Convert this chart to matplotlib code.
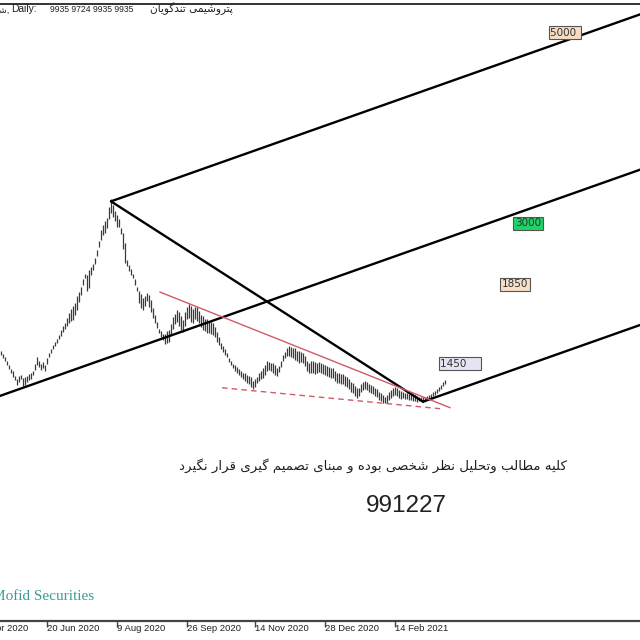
import matplotlib
matplotlib.use('Agg')
import matplotlib.pyplot as plt
import matplotlib.transforms as mtransforms
import numpy as np

# daily bars (price in units of 100 rial)
bar_mid = [128, 125, 122, 118, 114, 110, 107, 103, 99, 102, 104, 99, 100, 102, 104, 105, 108, 114, 120, 117,
           114, 116, 113, 120, 126,
           130, 134, 137, 140, 144, 148, 152, 155, 159, 163, 166, 168, 172, 178, 184, 190, 199, 205, 198, 202,
           210, 214, 220, 228, 237, 246, 251, 254, 258, 268, 275,
           270, 265, 260, 258, 250, 240, 228, 218, 213, 209, 205, 199, 192, 184, 180, 177, 180, 184, 180, 175,
           168, 162, 156, 150, 147, 144, 142, 144, 145, 152, 158, 162, 165, 162, 158, 155, 162, 168, 170, 167,
           165, 168, 167, 164, 160, 158, 156, 155, 154, 153, 152, 149, 144, 140, 135, 132, 129, 126, 121, 118,
           115, 113, 111, 109, 107, 105, 104, 102, 101, 99, 96, 98, 101, 104, 106, 108, 111, 115, 115, 114,
           113, 111, 109, 112, 117, 123, 126, 129, 130, 129, 128, 127, 125, 124, 124,
           123, 120, 115, 113, 114, 114, 113, 113, 114, 113, 112, 111, 110, 109, 108, 108, 105, 103, 103, 102,
           102, 100, 99, 97, 94, 93, 90, 88, 89, 93, 95, 96, 95, 93, 92, 91, 89, 88, 85, 84,
           82, 81, 82, 85, 87, 89, 90, 89, 87, 86, 86, 85, 85, 84, 84, 83, 83, 82, 82, 82,
           82, 82, 83, 84, 85, 87, 88, 90, 92, 94, 97, 99]
bar_half = [2, 2, 2, 2, 2, 2, 3, 2, 3, 3, 2, 4, 4, 3, 3, 3, 2, 3, 4, 3, 3, 3, 3, 3, 2,
            2, 2, 2, 2, 2, 3, 3, 3, 4, 5, 6, 7, 6, 7, 5, 4, 3, 2, 8, 9, 4, 3, 3, 3, 3, 5, 5, 6, 5, 6, 7,
            6, 5, 6, 4, 3, 8, 10, 3, 3, 3, 2, 3, 2, 6, 7, 6, 5, 4, 6, 6,
            5, 4, 3, 2, 3, 3, 5, 6, 6, 5, 6, 5, 6, 7, 7, 6, 7, 6, 7, 8, 7, 6, 7, 6, 6, 7, 6, 7, 6, 6,
            6, 5, 5, 4, 3, 3, 3, 2, 2, 2, 2, 3, 3, 3, 3, 3, 4, 4, 4, 5, 4, 4, 3, 4, 4, 5, 5, 5, 4, 4,
            5, 5, 4, 3, 3, 3, 3, 4, 5, 5, 5, 6, 5, 6, 5,
            5, 5, 5, 5, 6, 6, 6, 5, 5, 5, 5, 5, 5, 5, 5, 5, 5, 5, 5, 5, 5, 5, 5, 5, 5, 5, 5, 5, 4, 4,
            4, 4, 4, 4, 4, 4, 4, 4, 4, 4, 4, 3, 4, 4, 4, 4, 4, 4, 4, 4, 3, 3, 3, 3, 3, 3, 3, 3, 2, 2,
            2, 2, 2, 2, 2, 2, 2, 2, 2, 2, 2, 2]

date_bars = [-12, 23, 58, 93, 127, 162, 197]
date_labels = ['30 Apr 2020', '20 Jun 2020', '9 Aug 2020', '26 Sep 2020',
               '14 Nov 2020', '28 Dec 2020', '14 Feb 2021']

ohlc_text = '9935 9724 9935 9935'

# pitchfork pivots (A off screen, B peak, C low)
pf_bars = [-20, 55, 211]
pf_prices = [7100, 28000, 7900]

# wedge lines
wedge_top_bars = [79.5, 224.5]
wedge_top_prices = [18900, 7300]
wedge_low_bars = [110.5, 219.5]
wedge_low_prices = [9300, 7200]

target_labels = ['5000 ', '3000', '1850', '1450    ']
target_bars = [282, 263.5, 257, 229.5]
target_prices = [44900, 25800, 19700, 11700]
target_colors = ['#f6dcc0', '#1fd36a', '#f6dfc6', '#e4e4f2']

# --- small persian shaper (presentation forms) ---
FORMS = {
    'ا': ('\uFE8D', '\uFE8E', None, None),
    'ب': ('\uFE8F', '\uFE90', '\uFE91', '\uFE92'),
    'پ': ('\uFB56', '\uFB57', '\uFB58', '\uFB59'),
    'ت': ('\uFE95', '\uFE96', '\uFE97', '\uFE98'),
    'ح': ('\uFEA1', '\uFEA2', '\uFEA3', '\uFEA4'),
    'خ': ('\uFEA5', '\uFEA6', '\uFEA7', '\uFEA8'),
    'د': ('\uFEA9', '\uFEAA', None, None),
    'ر': ('\uFEAD', '\uFEAE', None, None),
    'ش': ('\uFEB5', '\uFEB6', '\uFEB7', '\uFEB8'),
    'ص': ('\uFEB9', '\uFEBA', '\uFEBB', '\uFEBC'),
    'ط': ('\uFEC1', '\uFEC2', '\uFEC3', '\uFEC4'),
    'ظ': ('\uFEC5', '\uFEC6', '\uFEC7', '\uFEC8'),
    'ق': ('\uFED5', '\uFED6', '\uFED7', '\uFED8'),
    'ک': ('\uFB8E', '\uFB8F', '\uFB90', '\uFB91'),
    'گ': ('\uFB92', '\uFB93', '\uFB94', '\uFB95'),
    'ل': ('\uFEDD', '\uFEDE', '\uFEDF', '\uFEE0'),
    'م': ('\uFEE1', '\uFEE2', '\uFEE3', '\uFEE4'),
    'ن': ('\uFEE5', '\uFEE6', '\uFEE7', '\uFEE8'),
    'ه': ('\uFEE9', '\uFEEA', '\uFEEB', '\uFEEC'),
    'و': ('\uFEED', '\uFEEE', None, None),
    'ی': ('\uFBFC', '\uFBFD', '\uFBFE', '\uFBFF'),
}


def shape(s):
    out = []
    for i, ch in enumerate(s):
        if ch not in FORMS:
            out.append(ch)
            continue
        f = FORMS[ch]
        prev = s[i - 1] if i > 0 else ''
        nxt = s[i + 1] if i + 1 < len(s) else ''
        jp = prev in FORMS and FORMS[prev][2] is not None
        jn = nxt in FORMS and f[2] is not None
        if jp and jn:
            out.append(f[3])
        elif jp:
            out.append(f[1])
        elif jn:
            out.append(f[2])
        else:
            out.append(f[0])
    return ''.join(reversed(out))


mid = np.array(bar_mid, dtype=float)
half = np.array(bar_half, dtype=float)
highs = (mid + half) * 100
lows = (mid - half) * 100
idx = np.arange(len(mid))

fig = plt.figure(figsize=(6.4, 6.4), dpi=100)
ax = fig.add_axes([0, 19 / 640, 1, 617 / 640])
ax.set_xlim(-0.5, 319.5)
ax.set_ylim(-14100, 47800)
for s in ['left', 'right']:
    ax.spines[s].set_visible(False)
ax.spines['bottom'].set_color('#444444')
ax.spines['bottom'].set_linewidth(1.6)
ax.spines['top'].set_color('#333333')
ax.spines['top'].set_linewidth(1.4)
ax.set_yticks([])

ax.vlines(idx, lows, highs, color='#3a3a3a', lw=0.9)

# pitchfork
A = np.array([pf_bars[0], pf_prices[0]], dtype=float)
B = np.array([pf_bars[1], pf_prices[1]], dtype=float)
C = np.array([pf_bars[2], pf_prices[2]], dtype=float)
M = (B + C) / 2
d = (M - A) / (M - A)[0]
far = 340
for p in [A, B, C]:
    t = far - p[0]
    ax.plot([p[0], p[0] + t * d[0]], [p[1], p[1] + t * d[1]], color='black', lw=1.7,
            solid_capstyle='round')
ax.plot([B[0], C[0]], [B[1], C[1]], color='black', lw=1.7, solid_capstyle='round')

ax.plot(wedge_top_bars, wedge_top_prices, color='#d05a66', lw=1.0)
ax.plot(wedge_low_bars, wedge_low_prices, color='#d05a66', lw=1.0, dashes=(4, 3))

for lab, b, p, c in zip(target_labels, target_bars, target_prices, target_colors):
    ax.text(b, p, lab, fontsize=7.5, color='#303030', ha='center', va='center',
            family='DejaVu Sans',
            bbox=dict(boxstyle='square,pad=0.15', fc=c, ec='#555555', lw=0.8))

# x axis dates
vis = [b for b in date_bars if b >= 0]
ax.set_xticks(vis)
ax.set_xticklabels([])
ax.tick_params(axis='x', direction='out', length=4, width=1, color='#444444')
trans = mtransforms.blended_transform_factory(ax.transData, ax.transAxes)
for b, lab in zip(date_bars, date_labels):
    ax.text(b, -0.005, lab, transform=trans, ha='left', va='top', fontsize=6.8,
            family='Liberation Sans', color='#202020', clip_on=False)

# header line
hy = 1 - 9 / 640
fig.text(9 / 640, hy, shape('شگویا') + ',', fontsize=6.6, va='center', ha='right',
         family=['Liberation Sans', 'DejaVu Sans'], color='#202020')
fig.text(11 / 640, hy, 'Daily:', fontsize=7.4, va='center', ha='left',
         family='Liberation Sans', color='#202020')
fig.text(50 / 640, hy, ohlc_text, fontsize=6.2, va='center', ha='left',
         family='Liberation Sans', color='#202020')
fig.text(150 / 640, hy, shape('پتروشیمی تندگویان'), fontsize=7.6, va='center', ha='left',
         family='DejaVu Sans', color='#202020')

fig.text(373 / 640, 1 - 466 / 640,
         shape('کلیه مطالب وتحلیل نظر شخصی بوده و مبنای تصمیم گیری قرار نگیرد'),
         fontsize=9.6, ha='center', va='center', family='DejaVu Sans', color='#202020')
fig.text(406 / 640, 1 - 506 / 640, '991227', fontsize=17.5, ha='center', va='center',
         family='Liberation Sans', color='#202020')
fig.text(-8 / 640, 1 - 597 / 640, 'Mofid Securities', fontsize=11, ha='left', va='center',
         family='Liberation Serif', color='#3a9a9c')

fig.savefig('out.png', dpi=100)
